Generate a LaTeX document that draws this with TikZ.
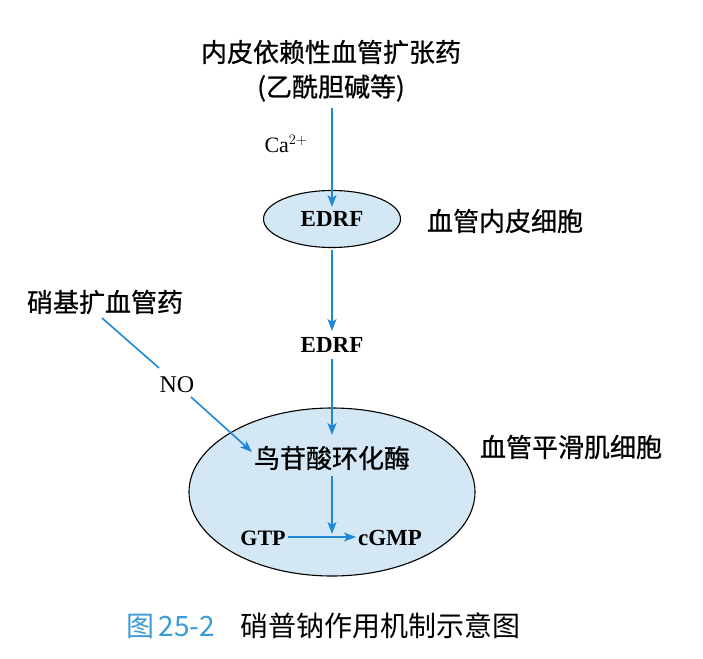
\documentclass[tikz,border=0pt]{standalone}
\usepackage{fontspec}
\setmainfont{Liberation Serif}
\newfontfamily\cjk{Noto Sans CJK SC}[FakeBold=0.8]
\newfontfamily\cjkcap{Noto Sans CJK SC}
\usetikzlibrary{arrows.meta,shapes.geometric}
\definecolor{arrblue}{HTML}{1E88D8}
\definecolor{cellfill}{HTML}{D3E8F4}
\definecolor{capblue}{HTML}{3A9AD9}
\tikzset{
  ctext/.style={font=\cjk\fontsize{26}{30}\selectfont, inner sep=0pt},
  ltext/.style={font=\bfseries\fontsize{23}{26}\selectfont, inner sep=0pt},
  rtext/.style={font=\fontsize{23}{26}\selectfont, inner sep=0pt},
  arr/.style={draw=arrblue, line width=1.6pt, -{Stealth[length=12pt,width=9pt,inset=3pt]}},
  ln/.style={draw=arrblue, line width=1.6pt},
  cell/.style={ellipse, draw=black, line width=1.1pt, fill=cellfill, inner sep=0pt},
  captext/.style={font=\cjkcap\fontsize{28}{32}\selectfont, inner sep=0pt}
}
\begin{document}
\begin{tikzpicture}[x=1pt,y=-1pt]
\useasboundingbox (0,0) rectangle (703,658);
% top
\node[ctext] (drug) at (331,52) {内皮依赖性血管扩张药};
\node[ctext] (ach) at (331,88) {(乙酰胆碱等)};
\node[rtext, font=\fontsize{22}{26}\selectfont] (ca) at (286,144) {Ca$^{2+}$};
% endothelial cell
\node[cell, minimum width=137pt, minimum height=57pt] (e1) at (332,219) {};
\node[ltext] (edrf1) at (e1.center) {EDRF};
\node[ctext] (endo) at (505,221) {血管内皮细胞};
\coordinate (a1s) at (332,108);
\coordinate (a1e) at (332,207);
\draw[arr] (a1s) -- (a1e);
% released EDRF
\node[ltext] (edrf2) at (332,345) {EDRF};
\coordinate (a2s) at (332,250);
\coordinate (a2e) at (332,331);
\draw[arr] (a2s) -- (a2e);
% nitrovasodilators
\node[ctext] (nitro) at (105,302) {硝基扩血管药};
\node[rtext, font=\fontsize{24}{26}\selectfont] (no) at (177,385) {NO};
\coordinate (n1s) at (102,318);
\coordinate (n1e) at (159,368);
\draw[ln] (n1s) -- (n1e);
% smooth muscle cell
\node[cell, minimum width=286pt, minimum height=168pt] (e2) at (332,492) {};
\node[ctext] (gc) at (332,458) {鸟苷酸环化酶};
\node[ctext] (smc) at (571,447) {血管平滑肌细胞};
\node[ltext, font=\bfseries\fontsize{22}{26}\selectfont, anchor=base] (gtp) at (263,545) {GTP};
\node[ltext, anchor=base] (cgmp) at (390,545) {cGMP};
\coordinate (a3s) at (332,359);
\coordinate (a3e) at (332,435);
\draw[arr] (a3s) -- (a3e);
\coordinate (n2s) at (191,397);
\coordinate (n2e) at (252,452);
\draw[arr] (n2s) -- (n2e);
\coordinate (a4s) at (332,476);
\coordinate (a4e) at (332,534);
\draw[arr] (a4s) -- (a4e);
\coordinate (g1) at (288,537);
\coordinate (g2) at (356,537);
\draw[arr] (g1) -- (g2);
% caption
\node[captext, text=capblue, anchor=west] (fig) at (126,626) {图\,25-2};
\node[captext, anchor=west] (cap) at (240,626) {硝普钠作用机制示意图};
\end{tikzpicture}
\end{document}
